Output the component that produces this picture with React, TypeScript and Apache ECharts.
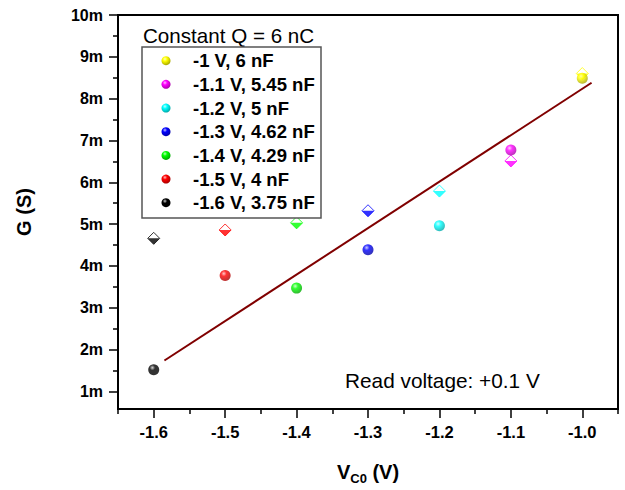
import React, { useEffect, useRef } from "react";
import * as echarts from "echarts";

// Data (legend order)
const labels = [
  "-1 V, 6 nF",
  "-1.1 V, 5.45 nF",
  "-1.2 V, 5 nF",
  "-1.3 V, 4.62 nF",
  "-1.4 V, 4.29 nF",
  "-1.5 V, 4 nF",
  "-1.6 V, 3.75 nF",
];
const voltages = [-1.0, -1.1, -1.2, -1.3, -1.4, -1.5, -1.6];
const colors = ["#ffff00", "#ff00ff", "#00ffff", "#0000ff", "#00ff00", "#ff0000", "#000000"];
const gSphere = [8.49, 6.77, 4.96, 4.39, 3.47, 3.77, 1.52]; // mS
const gDiamond = [8.6, 6.51, 5.79, 5.32, 5.03, 4.86, 4.66]; // mS
const fitX = [-1.585, -0.987];
const fitG = [1.74, 8.38];
const xMajorTicks = [-1.6, -1.5, -1.4, -1.3, -1.2, -1.1, -1.0];
const xMinorTicks = [-1.65, -1.55, -1.45, -1.35, -1.25, -1.15, -1.05, -0.95];
const yMajorTicks = [1, 2, 3, 4, 5, 6, 7, 8, 9, 10];
const yMinorTicks = [1.5, 2.5, 3.5, 4.5, 5.5, 6.5, 7.5, 8.5, 9.5];

const FONT = '"Liberation Sans", Arial, sans-serif';

function mix(hex: string, target: number, t: number): string {
  const n = parseInt(hex.slice(1), 16);
  const r = (n >> 16) & 255, g = (n >> 8) & 255, b = n & 255;
  const f = (c: number) => Math.round(c + (target - c) * t);
  return `rgb(${f(r)},${f(g)},${f(b)})`;
}

function sphere(c: string) {
  const light = c === "#000000" ? "#cccccc" : mix(c, 255, 0.75);
  return new echarts.graphic.RadialGradient(0.38, 0.32, 0.7, [
    { offset: 0, color: light },
    { offset: 0.35, color: c },
    { offset: 1, color: mix(c, 0, 0.35) },
  ]);
}

export default function App() {
  const ref = useRef<HTMLDivElement>(null);
  useEffect(() => {
    if (!ref.current) return;
    const chart = echarts.init(ref.current, undefined, { renderer: "svg" });

    const series: any[] = [];
    series.push({
      type: "line",
      name: "fit",
      data: fitX.map((x, i) => [x, fitG[i]]),
      symbol: "none",
      lineStyle: { color: "#800000", width: 2 },
      z: 2,
    });
    // diamond outlines (white fill)
    series.push({
      type: "scatter",
      name: "diamondOutline",
      symbol: "diamond",
      symbolSize: 12,
      data: voltages.map((v, i) => ({
        value: [v, gDiamond[i]],
        itemStyle: { color: "#ffffff", borderColor: colors[i], borderWidth: 1 },
      })),
      z: 3,
    });
    // diamond lower half (filled)
    series.push({
      type: "scatter",
      name: "diamondFill",
      symbol: "triangle",
      symbolSize: [12, 6],
      symbolRotate: 180,
      symbolOffset: [0, 3],
      data: voltages.map((v, i) => ({
        value: [v, gDiamond[i]],
        itemStyle: { color: colors[i] },
      })),
      z: 4,
    });
    labels.forEach((lab, i) => {
      series.push({
        type: "scatter",
        name: lab,
        symbol: "circle",
        symbolSize: 11,
        data: [[voltages[i], gSphere[i]]],
        itemStyle: { color: sphere(colors[i]) },
        z: 5,
      });
    });

    const graphic: any[] = [
      {
        type: "text",
        x: 143,
        y: 35,
        style: {
          text: "Constant Q = 6 nC",
          fill: "#000",
          font: `20.6px ${FONT}`,
          verticalAlign: "middle",
        },
      },
      {
        type: "rect",
        shape: { x: 142, y: 47, width: 179, height: 171 },
        style: { fill: "#fff", stroke: "#555", lineWidth: 1.5 },
        z: 10,
      },
      {
        type: "text",
        x: 345,
        y: 380,
        style: {
          text: "Read voltage: +0.1 V",
          fill: "#000",
          font: `20.8px ${FONT}`,
          verticalAlign: "middle",
        },
      },
    ];
    labels.forEach((lab, i) => {
      const cy = 60.7 + 23.67 * i;
      graphic.push({
        type: "circle",
        shape: { cx: 166, cy, r: 4.5 },
        style: { fill: sphere(colors[i]) },
        z: 11,
      });
      graphic.push({
        type: "text",
        x: 193,
        y: cy,
        style: {
          text: lab,
          fill: "#000",
          font: `bold 18.5px ${FONT}`,
          verticalAlign: "middle",
        },
        z: 11,
      });
    });

    chart.setOption({
      animation: false,
      backgroundColor: "#ffffff",
      grid: {
        left: 118,
        right: 7,
        top: 15,
        bottom: 72,
        show: true,
        borderColor: "#000",
        borderWidth: 2,
        backgroundColor: "transparent",
      },
      xAxis: [
        {
          type: "value",
          min: -1.65,
          max: -0.95,
          position: "bottom",
          axisLine: { show: true, onZero: false, lineStyle: { color: "#000", width: 2 } },
          axisTick: { show: true, length: 9, customValues: xMajorTicks, lineStyle: { color: "#000", width: 1.5 } },
          axisLabel: {
            customValues: xMajorTicks,
            formatter: (v: number) => v.toFixed(1),
            fontFamily: FONT,
            fontWeight: "bold",
            fontSize: 16.5,
            color: "#000",
            margin: 14,
          },
          splitLine: { show: false },
          name: "{b|V}{s|C0}{b| (V)}",
          nameLocation: "middle",
          nameGap: 49,
          nameTextStyle: {
            rich: {
              b: { fontFamily: FONT, fontWeight: "bold", fontSize: 20, color: "#000" },
              s: { fontFamily: FONT, fontWeight: "bold", fontSize: 13, color: "#000", padding: [14, 0, 0, 0] },
            },
          },
        },
        {
          type: "value",
          min: -1.65,
          max: -0.95,
          position: "bottom",
          axisLine: { show: false, onZero: false },
          axisTick: { show: true, length: 5, customValues: xMinorTicks, lineStyle: { color: "#000", width: 1.5 } },
          axisLabel: { show: false },
          splitLine: { show: false },
        },
      ],
      yAxis: [
        {
          type: "value",
          min: 0.58,
          max: 10,
          position: "left",
          axisLine: { show: true, onZero: false, lineStyle: { color: "#000", width: 2 } },
          axisTick: { show: true, length: 9, customValues: yMajorTicks, lineStyle: { color: "#000", width: 1.5 } },
          axisLabel: {
            customValues: yMajorTicks,
            formatter: (v: number) => `${Math.round(v)}m`,
            fontFamily: FONT,
            fontWeight: "bold",
            fontSize: 16,
            color: "#000",
            margin: 15,
          },
          splitLine: { show: false },
          name: "G (S)",
          nameLocation: "middle",
          nameGap: 84,
          nameRotate: 90,
          nameTextStyle: { fontFamily: FONT, fontWeight: "bold", fontSize: 20, color: "#000" },
        },
        {
          type: "value",
          min: 0.58,
          max: 10,
          position: "left",
          offset: 0,
          axisLine: { show: false, onZero: false },
          axisTick: { show: true, length: 5, customValues: yMinorTicks, lineStyle: { color: "#000", width: 1.5 } },
          axisLabel: { show: false },
          splitLine: { show: false },
        },
      ],
      series,
      graphic,
    });
    return () => chart.dispose();
  }, []);
  return (
    <div
      ref={ref}
      style={{ position: "fixed", left: 0, top: 0, width: 625, height: 490, background: "#fff" }}
    />
  );
}
